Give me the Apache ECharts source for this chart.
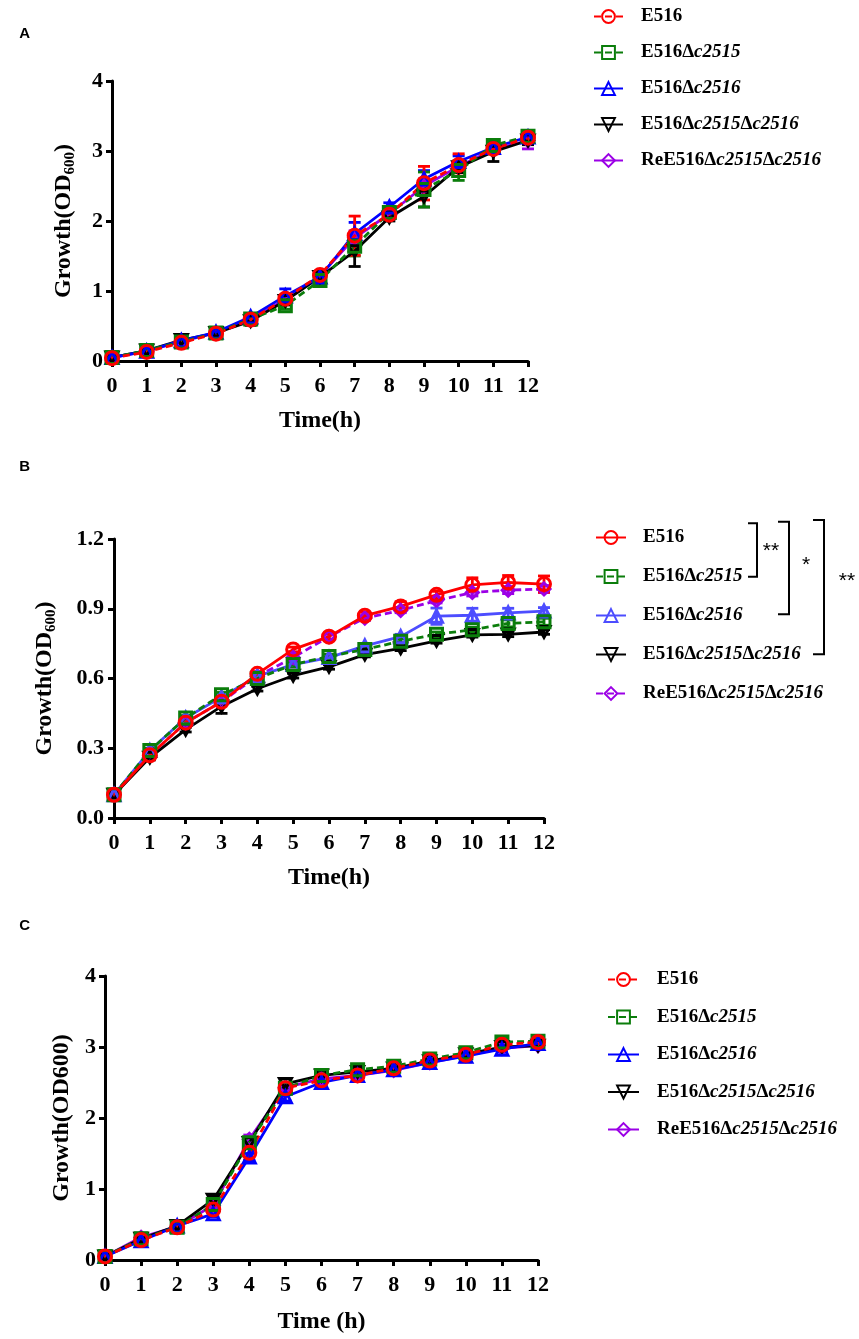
<!DOCTYPE html>
<html>
<head>
<meta charset="UTF-8">
<title>Growth curves</title>
<script src="https://cdn.jsdelivr.net/npm/echarts@6/dist/echarts.min.js"></script>
<style>
html, body { margin: 0; padding: 0; background: #fff; }
.panel { position: absolute; left: 0; width: 859px; }
</style>
</head>
<body>
<div id="pa" class="panel" style="top:0;height:445px"></div>
<div id="pb" class="panel" style="top:445px;height:450px"></div>
<div id="pc" class="panel" style="top:895px;height:444px"></div>
<script>
// ---- data ----
const hours = [0, 1, 2, 3, 4, 5, 6, 7, 8, 9, 10, 11, 12];
const strainNames = ['E516', 'E516Δc2515', 'E516Δc2516', 'E516Δc2515Δc2516', 'ReE516Δc2515Δc2516'];
const yTicksAC = [0, 1, 2, 3, 4];
const yTicksB = [0, 0.3, 0.6, 0.9, 1.2];

// panel A
const aE516 = [0.04, 0.13, 0.26, 0.39, 0.59, 0.89, 1.23, 1.79, 2.09, 2.54, 2.80, 3.03, 3.19];
const aE516Err = [0.02, 0.02, 0.03, 0.03, 0.04, 0.05, 0.05, 0.28, 0.06, 0.24, 0.16, 0.06, 0.05];
const aD2515 = [0.05, 0.15, 0.27, 0.40, 0.60, 0.79, 1.15, 1.64, 2.12, 2.45, 2.72, 3.08, 3.21];
const aD2515Err = [0.02, 0.06, 0.04, 0.05, 0.04, 0.05, 0.05, 0.14, 0.08, 0.25, 0.14, 0.06, 0.06];
const aD2516 = [0.05, 0.14, 0.29, 0.41, 0.63, 0.93, 1.20, 1.82, 2.20, 2.60, 2.85, 3.05, 3.20];
const aD2516Err = [0.02, 0.03, 0.03, 0.03, 0.03, 0.10, 0.05, 0.16, 0.06, 0.12, 0.08, 0.06, 0.05];
const aDD = [0.05, 0.15, 0.30, 0.40, 0.57, 0.86, 1.20, 1.57, 2.05, 2.35, 2.77, 2.99, 3.15];
const aDDErr = [0.02, 0.03, 0.06, 0.04, 0.06, 0.06, 0.08, 0.22, 0.05, 0.15, 0.08, 0.14, 0.06];
const aRe = [0.05, 0.14, 0.28, 0.40, 0.60, 0.88, 1.22, 1.76, 2.10, 2.50, 2.78, 3.02, 3.15];
const aReErr = [0.02, 0.03, 0.03, 0.03, 0.04, 0.05, 0.05, 0.10, 0.06, 0.10, 0.08, 0.06, 0.12];

// panel B
const bE516 = [0.10, 0.27, 0.41, 0.50, 0.62, 0.725, 0.78, 0.87, 0.91, 0.96, 1.003, 1.013, 1.006];
const bE516Err = [0.005, 0.01, 0.01, 0.01, 0.01, 0.01, 0.015, 0.015, 0.02, 0.015, 0.03, 0.03, 0.035];
const bD2515 = [0.10, 0.29, 0.43, 0.53, 0.60, 0.66, 0.695, 0.725, 0.76, 0.79, 0.81, 0.837, 0.844];
const bD2515Err = [0.005, 0.01, 0.01, 0.01, 0.01, 0.01, 0.01, 0.01, 0.01, 0.01, 0.01, 0.015, 0.015];
const bD2516 = [0.10, 0.29, 0.43, 0.52, 0.61, 0.66, 0.69, 0.74, 0.78, 0.868, 0.872, 0.882, 0.89];
const bD2516Err = [0.005, 0.01, 0.01, 0.01, 0.01, 0.01, 0.01, 0.01, 0.01, 0.035, 0.03, 0.02, 0.015];
const bDD = [0.10, 0.26, 0.38, 0.48, 0.556, 0.612, 0.65, 0.703, 0.73, 0.762, 0.788, 0.79, 0.80];
const bDDErr = [0.005, 0.01, 0.01, 0.03, 0.01, 0.01, 0.01, 0.01, 0.01, 0.01, 0.01, 0.01, 0.01];
const bRe = [0.10, 0.27, 0.41, 0.50, 0.61, 0.69, 0.78, 0.86, 0.893, 0.935, 0.97, 0.98, 0.985];
const bReErr = [0.005, 0.01, 0.01, 0.01, 0.01, 0.01, 0.01, 0.01, 0.01, 0.01, 0.015, 0.015, 0.015];

// panel C
const cE516 = [0.05, 0.28, 0.46, 0.71, 1.51, 2.42, 2.53, 2.60, 2.70, 2.81, 2.89, 3.03, 3.07];
const cE516Err = [0.02, 0.03, 0.03, 0.04, 0.06, 0.06, 0.04, 0.04, 0.04, 0.04, 0.10, 0.04, 0.04];
const cD2515 = [0.05, 0.30, 0.46, 0.78, 1.65, 2.42, 2.60, 2.68, 2.73, 2.83, 2.92, 3.07, 3.08];
const cD2515Err = [0.02, 0.04, 0.04, 0.05, 0.06, 0.06, 0.04, 0.05, 0.04, 0.04, 0.05, 0.05, 0.04];
const cD2516 = [0.05, 0.27, 0.48, 0.65, 1.45, 2.30, 2.50, 2.60, 2.68, 2.78, 2.87, 2.97, 3.05];
const cD2516Err = [0.02, 0.03, 0.03, 0.04, 0.05, 0.06, 0.04, 0.04, 0.04, 0.04, 0.04, 0.04, 0.05];
const cDD = [0.05, 0.30, 0.48, 0.85, 1.65, 2.48, 2.60, 2.65, 2.70, 2.80, 2.90, 3.00, 3.02];
const cDDErr = [0.02, 0.04, 0.04, 0.05, 0.06, 0.07, 0.05, 0.04, 0.04, 0.05, 0.04, 0.04, 0.05];
const cRe = [0.05, 0.32, 0.47, 0.77, 1.70, 2.43, 2.55, 2.60, 2.67, 2.78, 2.88, 2.98, 3.02];
const cReErr = [0.02, 0.04, 0.03, 0.04, 0.06, 0.05, 0.04, 0.04, 0.04, 0.04, 0.04, 0.04, 0.04];

// ---- styles ----
const SERIF = '"Liberation Serif", "Times New Roman", serif';
const SANS = '"Liberation Sans", Arial, sans-serif';
const RED = '#ff0000', GREEN = '#0b7d0b', BLUE = '#0000ff', BLUE_B = '#4d4dff', BLACK = '#000000', PURPLE = '#9b00e6';
const DOWN_TRI = 'path://M0,0L10,0L5,9Z';
const symbols = ['circle', 'rect', 'triangle', DOWN_TRI, 'diamond'];
const DASH = [7, 4];

function errorBar(color) {
  return function (params, api) {
    const x = api.value(0);
    const top = api.coord([x, api.value(2)]);
    const bot = api.coord([x, api.value(1)]);
    const hw = 6;
    const style = { stroke: color, lineWidth: 2.8 };
    return {
      type: 'group',
      children: [
        { type: 'line', shape: { x1: top[0], y1: top[1], x2: bot[0], y2: bot[1] }, style: style },
        { type: 'line', shape: { x1: top[0] - hw, y1: top[1], x2: top[0] + hw, y2: top[1] }, style: style },
        { type: 'line', shape: { x1: bot[0] - hw, y1: bot[1], x2: bot[0] + hw, y2: bot[1] }, style: style }
      ]
    };
  };
}

function legendLabel(plainC) {
  return function (name) {
    if (plainC && name === 'E516Δc2516') return '{t|E516Δc}{i|2516}';
    return '{t|' + name.replace(/(c\d{4})/g, '}{i|$1}{t|') + '}';
  };
}

const richText = {
  t: { fontFamily: SERIF, fontWeight: 'bold', fontSize: 19, color: '#000', lineHeight: 20 },
  i: { fontFamily: SERIF, fontWeight: 'bold', fontStyle: 'italic', fontSize: 19, color: '#000', lineHeight: 20 }
};

function buildPanel(id, p) {
  const chart = echarts.init(document.getElementById(id));
  const series = [];
  // draw red last so it sits on top
  [4, 3, 2, 1, 0].forEach(function (k) {
    const vals = p.values[k], errs = p.errors[k], color = p.colors[k];
    series.push({
      type: 'line',
      name: strainNames[k],
      data: hours.map(function (h, i) { return [h, vals[i]]; }),
      symbol: symbols[k],
      symbolSize: k === 0 ? 13 : 12,
      symbolKeepAspect: true,
      lineStyle: { color: color, width: 2.8, type: p.dashed[k] ? DASH : 'solid' },
      itemStyle: { color: 'rgba(255,255,255,0)', borderColor: color, borderWidth: 3 },
      z: 3,
      animation: false
    });
    series.push({
      type: 'custom',
      name: 'err ' + strainNames[k],
      data: hours.map(function (h, i) { return [h, vals[i] - errs[i], vals[i] + errs[i]]; }),
      encode: { x: 0, y: [1, 2] },
      renderItem: errorBar(color),
      z: 2,
      silent: true,
      animation: false
    });
  });

  const yTicks = p.yTicks;
  const graphics = [{
    type: 'text', x: 24.6, y: p.letterY,
    style: { text: p.letter, fontFamily: SANS, fontWeight: 'bold', fontSize: 15, fill: '#000', align: 'center', verticalAlign: 'middle' }
  }].concat(p.extraGraphics || []);

  chart.setOption({
    animation: false,
    grid: { left: p.grid.left, right: p.grid.right, top: p.grid.top, height: p.grid.height, containLabel: false },
    xAxis: {
      type: 'value', min: 0, max: 12, interval: 1,
      name: p.xName, nameLocation: 'middle', nameGap: p.xNameGap,
      nameTextStyle: { fontFamily: SERIF, fontWeight: 'bold', fontSize: 24, color: '#000' },
      axisLine: { lineStyle: { color: '#000', width: 3 } },
      axisTick: { length: 6, lineStyle: { color: '#000', width: 3 } },
      axisLabel: { fontFamily: SERIF, fontWeight: 'bold', fontSize: 22, color: '#000', margin: 14 },
      splitLine: { show: false }
    },
    yAxis: {
      type: 'value', min: yTicks[0], max: yTicks[yTicks.length - 1], interval: yTicks[1] - yTicks[0],
      name: p.yName, nameLocation: 'middle', nameGap: p.yNameGap,
      nameTextStyle: {
        fontFamily: SERIF, fontWeight: 'bold', fontSize: 24, color: '#000',
        rich: {
          a: { fontFamily: SERIF, fontWeight: 'bold', fontSize: 24, color: '#000', lineHeight: 28 },
          s: { fontFamily: SERIF, fontWeight: 'bold', fontSize: 15, color: '#000', lineHeight: 14, verticalAlign: 'bottom' }
        }
      },
      axisLine: { show: true, lineStyle: { color: '#000', width: 3 } },
      axisTick: { show: true, length: 6, lineStyle: { color: '#000', width: 3 } },
      axisLabel: {
        fontFamily: SERIF, fontWeight: 'bold', fontSize: 22, color: '#000', margin: p.yLabelMargin,
        formatter: p.yFormat
      },
      splitLine: { show: false }
    },
    legend: {
      orient: 'vertical',
      left: p.legend.left, top: p.legend.top,
      itemWidth: p.legend.iconW, itemHeight: 16, itemGap: p.legend.gap,
      selectedMode: false,
      data: strainNames,
      formatter: legendLabel(p.plainC),
      textStyle: { padding: [0, 0, 0, p.legend.pad], rich: richText }
    },
    graphic: graphics,
    series: series
  });
  return chart;
}

// significance brackets for panel B (in panel B pixel space)
function bracket(x, armX, y1, y2) {
  return {
    type: 'polyline',
    shape: { points: [[armX, y1], [x, y1], [x, y2], [armX, y2]] },
    style: { stroke: '#000', lineWidth: 2, fill: null }
  };
}
function star(text, x, y) {
  return {
    type: 'text', x: x, y: y,
    style: { text: text, fontFamily: SANS, fontSize: 21, fill: '#000', align: 'center', verticalAlign: 'middle' }
  };
}

buildPanel('pa', {
  letter: 'A', letterY: 33.7,
  values: [aE516, aD2515, aD2516, aDD, aRe],
  errors: [aE516Err, aD2515Err, aD2516Err, aDDErr, aReErr],
  colors: [RED, GREEN, BLUE, BLACK, PURPLE],
  dashed: [true, true, false, false, false],
  grid: { left: 112, right: 331, top: 81, height: 280 },
  yTicks: yTicksAC,
  yName: '{a|Growth(OD}{s|600}{a|)}', yNameGap: 34, yLabelMargin: 9,
  yFormat: function (v) { return String(v); },
  xName: 'Time(h)', xNameGap: 48,
  legend: { left: 588, top: 2, iconW: 29, gap: 17, pad: 13 }
});

buildPanel('pb', {
  letter: 'B', letterY: 22,
  values: [bE516, bD2515, bD2516, bDD, bRe],
  errors: [bE516Err, bD2515Err, bD2516Err, bDDErr, bReErr],
  colors: [RED, GREEN, BLUE_B, BLACK, PURPLE],
  dashed: [false, true, false, false, true],
  grid: { left: 114, right: 315, top: 94, height: 284 },
  yTicks: yTicksB,
  yName: '{a|Growth(OD}{s|600}{a|)}', yNameGap: 55, yLabelMargin: 10,
  yFormat: function (v) { return v.toFixed(1); },
  xName: 'Time(h)', xNameGap: 48,
  legend: { left: 590, top: 78, iconW: 30, gap: 20, pad: 12 },
  extraGraphics: [
    bracket(757, 748, 78.3, 131.7), star('**', 771, 106.7),
    bracket(789, 778, 76.7, 169.3), star('*', 806, 120),
    bracket(824, 813, 75, 209.3), star('**', 847, 136.7)
  ]
});

buildPanel('pc', {
  letter: 'C', letterY: 31,
  values: [cE516, cD2515, cD2516, cDD, cRe],
  errors: [cE516Err, cD2515Err, cD2516Err, cDDErr, cReErr],
  colors: [RED, GREEN, BLUE, BLACK, PURPLE],
  dashed: [true, true, false, false, false],
  grid: { left: 105, right: 321, top: 81, height: 287 },
  yTicks: yTicksAC,
  yName: 'Growth(OD600)', yNameGap: 31, yLabelMargin: 9,
  yFormat: function (v) { return String(v); },
  xName: 'Time (h)', xNameGap: 50,
  legend: { left: 602, top: 70, iconW: 31, gap: 18.5, pad: 13 },
  plainC: true
});
</script>
</body>
</html>
